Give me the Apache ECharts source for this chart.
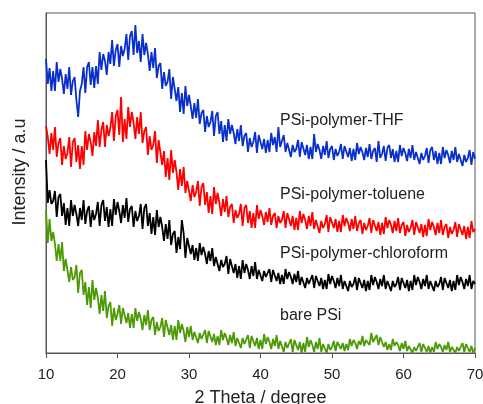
<!DOCTYPE html>
<html>
<head>
<meta charset="utf-8">
<script src="https://cdn.jsdelivr.net/npm/echarts@6/dist/echarts.min.js"></script>
<style>
  html, body { margin: 0; padding: 0; background: #fff; }
  #xrdChart { width: 483px; height: 404px; }
</style>
</head>
<body>
<div id="xrdChart"></div>
<script>
// 2 theta sampling: from 10 deg, one reading every 0.25 deg, up to 70 deg
const twoThetaStart = 10;
const twoThetaStep = 0.25;
const xTicks = [10, 20, 30, 40, 50, 60, 70];

// intensities (a.u., curves already offset), 4 readings per degree
const thfData = [
  294,269,285,262, 282,262,291,271, 284,274,259,279, 264,286,258,272, 276,253,236,262,
  269,286,260,286, 291,268,286,265, 287,269,301,283, 299,292,278,301, 289,313,287,303,
  309,286,307,297, 304,319,293,317, 322,298,328,300, 312,291,319,298, 310,299,282,301,
  285,305,275,287, 290,264,281,267, 271,284,254,276, 278,252,266,241, 260,239,267,247,
  258,247,234,250, 235,254,229,240, 243,221,237,226, 231,242,217,237, 241,219,232,211,
  228,212,234,219, 228,220,209,224, 212,228,207,217, 220,201,215,206, 211,221,200,218,
  219,204,214,200, 213,201,220,208, 216,201,226,206, 204,218,201,210, 211,196,208,201,
  204,213,196,211, 213,198,208,194, 206,194,219,201, 209,203,194,207, 198,212,195,204,
  207,193,204,197, 201,209,194,207, 209,196,205,192, 204,193,210,199, 206,201,193,205,
  196,209,194,202, 205,191,212,195, 199,207,192,205, 208,195,204,191, 202,191,208,197,
  205,200,192,204, 195,208,193,201, 203,189,200,193, 197,205,190,203, 206,193,202,189,
  200,189,206,195, 203,198,190,202, 193,206,191,199, 201,187,198,191, 195,203,188,201, 194];

const tolueneData = [
  227,216,199,220, 203,226,196,210, 215,188,207,194, 200,216,186,211, 215,191,208,184,
  207,188,222,203, 219,211,197,221, 207,233,206,223, 231,206,228,217, 225,241,212,237,
  243,218,256,211, 234,214,246,226, 241,230,214,236, 219,241,210,222, 226,198,217,203,
  208,222,190,213, 215,188,202,176, 195,173,203,180, 193,181,163,184, 167,186,160,172,
  174,152,168,156, 161,172,147,166, 170,148,161,140, 157,139,166,149, 160,150,137,154,
  141,157,136,146, 149,130,143,135, 139,149,127,145, 148,130,142,125, 140,125,148,134,
  143,137,128,141, 131,145,128,137, 140,125,137,130, 133,142,125,140, 142,127,137,123,
  135,123,142,130, 139,133,124,137, 127,141,124,133, 135,120,132,125, 129,138,121,136,
  138,125,134,121, 132,121,138,127, 135,130,122,134, 124,137,122,130, 133,119,130,123,
  127,135,120,133, 135,122,131,118, 130,119,136,125, 133,128,120,132, 122,135,120,128,
  131,117,128,121, 125,133,118,131, 133,120,129,116, 128,117,134,123, 131,126,118,130,
  120,133,118,126, 129,115,126,119, 123,131,116,129, 131,118,127,114, 126,115,132,121, 124];

const chloroformData = [
  193,150,163,149, 152,162,136,156, 159,137,150,128, 145,127,153,137, 148,139,127,145,
  133,153,129,142, 147,126,143,133, 139,151,127,148, 153,132,146,126, 144,127,154,138,
  151,142,130,148, 135,155,131,144, 147,126,142,132, 137,149,124,145, 149,127,140,119,
  136,118,143,126, 136,126,112,129, 114,133,108,119, 122,100,116,104, 133,120,95,115,
  115,99,108,93, 105,92,110,98, 106,99,89,102, 92,105,87,96, 98,82,93,86,
  89,97,79,94, 96,80,89,75, 87,74,93,80, 89,83,74,87, 77,91,74,83,
  84,72,82,76, 77,84,71,83, 84,72,80,69, 78,69,84,74, 81,76,69,79,
  71,82,68,76, 77,65,75,69, 71,78,65,77, 79,67,75,64, 73,64,79,69,
  77,72,65,75, 67,78,64,72, 74,62,72,66, 69,76,63,75, 77,65,73,62,
  72,63,78,68, 76,71,64,74, 67,78,64,72, 74,62,72,66, 69,76,63,75,
  77,65,73,62, 72,63,78,68, 76,71,64,74, 67,78,64,72, 74,62,72,66,
  69,76,63,75, 77,65,73,62, 72,63,78,68, 76,71,64,74, 67,78,64,72, 69];

const barePSiData = [
  143,110,134,112, 121,109,92,109, 92,111,82,94, 96,71,86,73, 76,88,60,80,
  83,58,71,48, 66,45,73,53, 65,55,39,58, 42,62,35,47, 51,27,45,33,
  39,48,29,45, 47,30,40,25, 39,25,45,32, 41,34,23,38, 28,43,23,33,
  36,18,31,22, 26,35,16,33, 35,18,28,13, 27,13,33,20, 29,22,11,26,
  16,27,13,21, 22,10,20,14, 16,23,10,22, 23,11,19,8, 17,8,23,13,
  20,15,8,18, 10,21,7,15, 17,5,15,9, 11,18,5,17, 19,7,15,4,
  13,4,19,9, 16,11,4,14, 7,18,4,12, 13,1,11,5, 7,14,1,13,
  15,3,11,0, 10,1,16,6, 13,8,1,11, 4,15,1,9, 11,0,9,3,
  6,12,2,11, 13,4,10,2, 9,3,14,7, 13,10,4,12, 8,17,7,13,
  15,8,20,11, 12,18,8,16, 16,6,11,3, 9,3,14,7, 11,8,2,10,
  4,12,2,7, 8,0,6,2, 4,10,1,9, 10,1,7,0, 6,1,11,4,
  9,6,1,8, 3,11,1,6, 8,0,6,2, 4,10,1,9, 10,1,7,0, 5];

const seriesNames = ['PSi-polymer-THF', 'PSi-polymer-toluene', 'PSi-polymer-chloroform', 'bare PSi'];
const seriesData = [thfData, tolueneData, chloroformData, barePSiData];
const seriesColors = ['#0a30cc', '#ff0000', '#000000', '#4c9a06'];
const labelTops = [121, 195, 254, 316];

function toPoints(values) {
    return values.map(function (v, i) {
        return [twoThetaStart + i * twoThetaStep, v];
    });
}

let myChart = echarts.init(document.getElementById('xrdChart'));

myChart.setOption({
    animation: false,
    backgroundColor: '#ffffff',
    textStyle: { fontFamily: 'Liberation Sans, Arial, sans-serif' },
    grid: {
        left: 46, top: 13, right: 8, bottom: 51,
        outerBoundsMode: 'none',
        containLabel: false,
        show: true,
        borderColor: '#555',
        borderWidth: 1
    },
    xAxis: {
        type: 'value',
        min: xTicks[0],
        max: xTicks[xTicks.length - 1],
        interval: 10,
        name: '2 Theta / degree',
        nameLocation: 'middle',
        nameGap: 36,
        nameTextStyle: { fontSize: 18, color: '#222' },
        axisLine: { lineStyle: { color: '#555' } },
        axisTick: { show: true, inside: false, length: 5, lineStyle: { color: '#555' } },
        axisLabel: { fontSize: 15, color: '#222', margin: 14 },
        splitLine: { show: false }
    },
    yAxis: {
        type: 'value',
        min: 0,
        max: 340,
        axisLine: { show: true, lineStyle: { color: '#555' } },
        axisTick: { show: false },
        axisLabel: { show: false },
        splitLine: { show: false }
    },
    graphic: [
        {
            type: 'text',
            x: 20, y: 172,
            rotation: Math.PI / 2,
            style: {
                text: 'Intensity / a.u',
                font: '18px "Liberation Sans", Arial, sans-serif',
                fill: '#222',
                align: 'center',
                verticalAlign: 'middle'
            }
        }
    ].concat(seriesNames.map(function (name, i) {
        return {
            type: 'text',
            x: 280, y: labelTops[i],
            style: {
                text: name,
                font: '16px "Liberation Sans", Arial, sans-serif',
                fill: '#222',
                verticalAlign: 'middle'
            }
        };
    })),
    series: seriesData.map(function (values, i) {
        return {
            name: seriesNames[i],
            type: 'line',
            data: toPoints(values),
            showSymbol: false,
            silent: true,
            lineStyle: { color: seriesColors[i], width: 1.8 },
            z: 10 - i
        };
    })
});
</script>
</body>
</html>
